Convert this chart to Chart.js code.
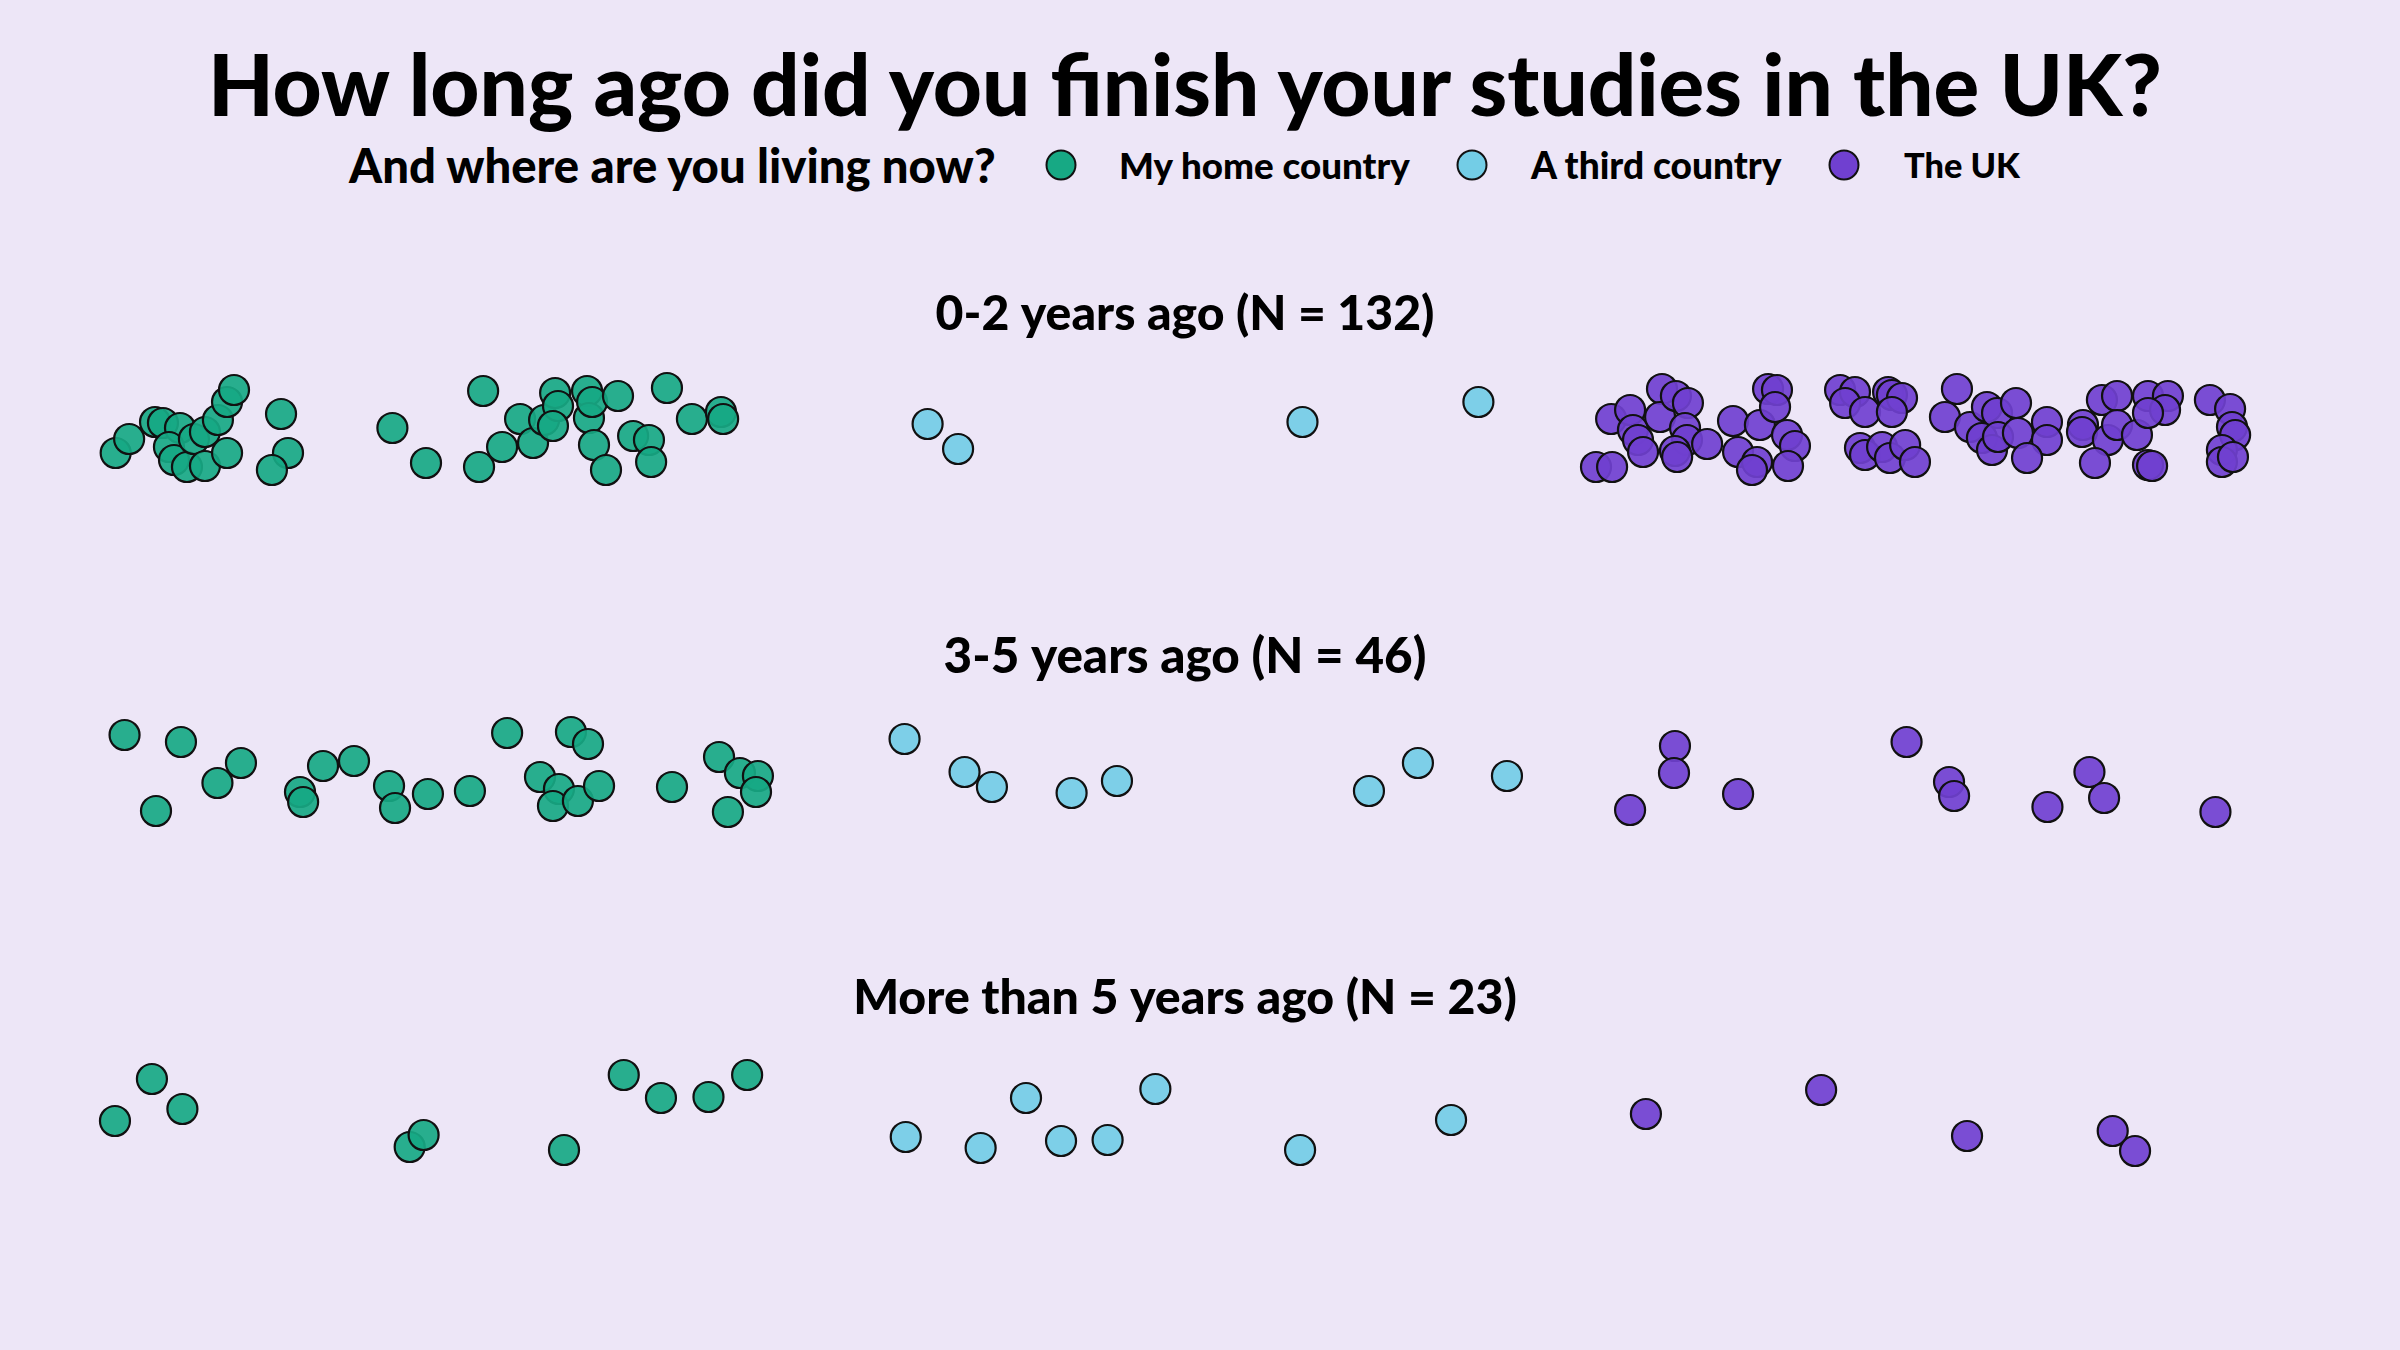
<!DOCTYPE html>
<html>
<head>
<meta charset="utf-8">
<title>How long ago did you finish your studies in the UK?</title>
<script src="https://cdn.jsdelivr.net/npm/chart.js@4.4.1/dist/chart.umd.min.js"></script>
<style>
  html, body {
    margin: 0;
    padding: 0;
    width: 2400px;
    height: 1350px;
    overflow: hidden;
    background: #ede6f7;
    font-family: "Lato", "DejaVu Sans", sans-serif;
  }
  .txt {
    position: absolute;
    white-space: nowrap;
    color: #000;
    font-weight: 900;
    line-height: 1;
  }
  .dot {
    position: absolute;
    width: 31px;
    height: 31px;
    border-radius: 50%;
    border: 2.4px solid #111;
    box-sizing: border-box;
    transform: translate(-50%, -50%);
  }
  canvas { position: absolute; left: 0; }
</style>
</head>
<body>

<div id="mainTitle" class="txt">How long ago did you finish your studies in the UK?</div>
<div id="legendLead" class="txt">And where are you living now?</div>
<div id="dot0" class="dot"></div>
<div id="lab0" class="txt">My home country</div>
<div id="dot1" class="dot"></div>
<div id="lab1" class="txt">A third country</div>
<div id="dot2" class="dot"></div>
<div id="lab2" class="txt">The UK</div>

<canvas id="row1" width="2400" height="219" style="top:290px"></canvas>
<canvas id="row2" width="2400" height="219" style="top:633px"></canvas>
<canvas id="row3" width="2400" height="219" style="top:974px"></canvas>

<script>
// categories
const groupLabels = ['My home country', 'A third country', 'The UK'];
const rowTitles = ['0-2 years ago (N = 132)', '3-5 years ago (N = 46)', 'More than 5 years ago (N = 23)'];

// points: [position along row (0-100), vertical jitter]
// 0-2 years ago
const row1Home = [
  [4.82, 2.4], [5.38, 1.0], [6.46, -0.7], [6.79, -0.6], [7.5, -0.1], [7.04, 1.8],
  [7.25, 3.1], [7.79, 3.8], [8.08, 1.0], [8.54, 0.3], [8.54, 3.7], [9.08, -0.9],
  [9.46, -2.7], [9.75, -3.9], [9.46, 2.4], [11.71, -1.5], [12.0, 2.4], [11.33, 4.1],
  [16.35, -0.1], [17.75, 3.4], [20.13, -3.8], [19.96, 3.8], [20.92, 1.8], [21.67, -1.0],
  [22.21, 1.4], [22.67, -0.9], [23.13, -3.6], [23.25, -2.3], [23.04, -0.3], [24.46, -3.8],
  [24.54, -1.1], [24.67, -2.7], [24.75, 1.6], [25.75, -3.3], [25.25, 4.1], [26.38, 0.7],
  [27.04, 1.1], [27.13, 3.3], [27.79, -4.1], [28.83, -1.0], [30.04, -1.7], [30.13, -1.0]
];
const row1Third = [[38.65, -0.5], [39.92, 2.0], [54.27, -0.7], [61.6, -2.7]];
const row1UK = [
  [66.5, 3.8], [67.17, 3.8], [67.13, -1.0], [67.92, -1.9], [68.04, 0.1], [68.25, 1.1],
  [68.46, 2.3], [69.25, -4.0], [69.17, -1.2], [69.83, -3.3], [70.33, -2.6], [70.21, -0.1],
  [70.29, 1.1], [69.79, 2.2], [69.88, 2.8], [71.13, 1.5], [72.21, -0.8], [73.33, -0.4],
  [72.42, 2.3], [73.21, 3.3], [73.0, 4.1], [73.67, -4.0], [74.04, -3.9], [73.96, -2.2],
  [74.46, 0.6], [74.79, 1.7], [74.5, 3.7], [76.67, -3.9], [77.29, -3.7], [76.88, -2.6],
  [77.71, -1.7], [78.67, -3.7], [78.83, -3.4], [79.25, -3.1], [78.83, -1.7], [77.5, 1.9],
  [77.71, 2.6], [78.42, 1.8], [78.75, 2.9], [79.38, 1.6], [79.79, 3.3], [81.54, -4.0],
  [81.04, -1.2], [82.08, -0.2], [82.79, -2.2], [83.21, -1.6], [82.58, 0.9], [83.0, 2.1],
  [83.25, 0.8], [84.0, -2.6], [84.08, 0.4], [85.29, -0.7], [85.29, 1.1], [84.46, 2.9],
  [86.79, -0.4], [86.75, 0.3], [87.58, -2.9], [88.21, -3.3], [87.83, 1.1], [88.21, -0.4],
  [89.04, 0.6], [87.29, 3.4], [89.5, -3.3], [90.33, -3.3], [90.21, -1.9], [89.5, -1.6],
  [89.5, 3.6], [89.67, 3.7], [92.08, -2.9], [92.92, -2.0], [93.0, -0.2], [93.13, 0.6],
  [92.58, 2.1], [92.58, 3.3], [93.04, 2.8]
];

// 3-5 years ago
const row2Home = [
  [5.19, -3.7], [7.54, -3.0], [6.5, 3.9], [9.06, 1.1], [10.04, -0.9], [12.5, 2.0],
  [12.63, 3.0], [13.46, -0.6], [14.75, -1.1], [16.21, 1.4], [16.46, 3.6], [17.83, 2.2],
  [19.58, 1.9], [21.13, -3.9], [23.79, -4.0], [24.5, -2.8], [22.5, 0.5], [23.29, 1.7],
  [23.04, 3.4], [24.08, 2.9], [24.96, 1.4], [28.0, 1.5], [29.96, -1.5], [30.83, 0.1],
  [31.58, 0.4], [31.5, 2.0], [30.33, 4.0]
];
const row2Third = [
  [37.69, -3.3], [40.19, 0.0], [41.33, 1.5], [44.65, 2.1], [46.54, 0.9], [57.04, 1.9],
  [59.08, -0.9], [62.79, 0.4]
];
const row2UK = [
  [69.79, -2.6], [69.75, 0.1], [67.92, 3.8], [72.42, 2.2], [79.44, -3.0], [81.21, 1.0],
  [81.42, 2.4], [85.31, 3.5], [87.06, 0.0], [87.67, 2.6], [92.31, 4.0]
];

// more than 5 years ago
const row3Home = [
  [4.79, 0.8], [6.33, -3.4], [7.6, -0.4], [17.07, 3.4], [17.65, 2.2], [23.5, 3.7],
  [25.99, -3.8], [27.54, -1.5], [29.52, -1.6], [31.13, -3.8]
];
const row3Third = [
  [37.74, 2.4], [40.86, 3.5], [42.75, -1.5], [44.21, 2.8], [46.15, 2.7], [48.14, -2.4],
  [54.17, 3.7], [60.46, 0.7]
];
const row3UK = [[68.58, 0.1], [75.88, -2.3], [81.96, 2.3], [88.03, 1.8], [88.96, 3.8]];

const fills = ['rgba(23,169,132,0.92)', 'rgba(115,205,230,0.92)', 'rgba(112,64,208,0.92)'];
const legendFills = ['#17a984', '#73cde6', '#7040d0'];
const fontFamily = '"Lato", "DejaVu Sans", sans-serif';
const W = 2400;
const rightPad = 30;

// font size that makes a text exactly as wide as wanted
const measureCtx = document.createElement('canvas').getContext('2d');
function fitSize(text, width, weight) {
  measureCtx.font = weight + ' 100px ' + fontFamily;
  return 100 * width / measureCtx.measureText(text).width;
}

function placeText(id, left, centerY, width, centered) {
  const el = document.getElementById(id);
  const size = fitSize(el.textContent, width, 900);
  el.style.fontSize = size + 'px';
  el.style.top = centerY + 'px';
  el.style.left = left + 'px';
  el.style.transform = centered ? 'translate(-50%, -50%)' : 'translate(0, -50%)';
}

placeText('mainTitle', 1185, 84, 1962, true);
placeText('legendLead', 349, 165, 649, false);
placeText('lab0', 1119, 165, 292, false);
placeText('lab1', 1531, 165, 252, false);
placeText('lab2', 1904, 165, 116, false);
[1061, 1472, 1844].forEach((x, i) => {
  const d = document.getElementById('dot' + i);
  d.style.left = x + 'px';
  d.style.top = '165px';
  d.style.background = legendFills[i];
});

function makeRow(canvasId, title, titleWidth, sets) {
  new Chart(document.getElementById(canvasId), {
    type: 'scatter',
    data: {
      datasets: sets.map((pts, i) => ({
        label: groupLabels[i],
        data: pts.map(p => ({ x: p[0], y: p[1] })),
        backgroundColor: fills[i],
        borderColor: '#111',
        borderWidth: 2.2,
        pointRadius: 15,
        pointHoverRadius: 15,
        clip: false
      }))
    },
    options: {
      responsive: false,
      animation: false,
      events: [],
      layout: { autoPadding: false, padding: { left: 0, right: rightPad, top: 0, bottom: 0 } },
      plugins: {
        legend: { display: false },
        tooltip: { enabled: false },
        title: {
          display: true,
          text: title,
          color: '#000',
          font: { family: fontFamily, weight: 900, size: fitSize(title, titleWidth, 900), lineHeight: '48px' },
          padding: { top: 0, bottom: 11 }
        }
      },
      scales: {
        x: { type: 'linear', display: false, min: 0, max: 100 * (W - rightPad) / W },
        y: { type: 'linear', display: false, min: -8, max: 8, reverse: true }
      }
    }
  });
}

makeRow('row1', rowTitles[0], 499, [row1Home, row1Third, row1UK]);
makeRow('row2', rowTitles[1], 483, [row2Home, row2Third, row2UK]);
makeRow('row3', rowTitles[2], 664, [row3Home, row3Third, row3UK]);
</script>
</body>
</html>
